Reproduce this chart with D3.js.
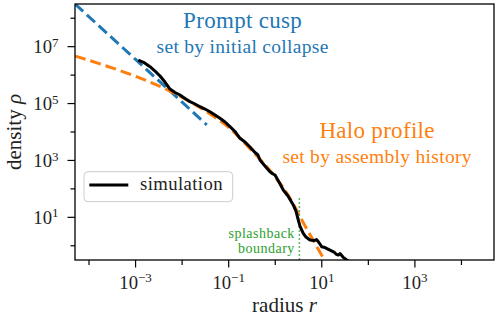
<!DOCTYPE html>
<html>
<head>
<meta charset="utf-8">
<script src="https://cdn.jsdelivr.net/npm/d3@7/dist/d3.min.js"></script>
<style>
  body { margin: 0; background: #fff; }
  svg text { font-family: "Liberation Serif", "DejaVu Serif", serif; }
</style>
</head>
<body>
<div class="chart"></div>
<script>
// all values are log10
var simLogR = [-2.942, -2.819, -2.690, -2.583, -2.475, -2.368, -2.261, -2.153, -2.046, -1.939,
    -1.831, -1.724, -1.616, -1.509, -1.402, -1.294, -1.187, -1.079, -0.972, -0.865,
    -0.757, -0.650, -0.542, -0.435, -0.371, -0.328, -0.220, -0.113, -0.048, -0.005,
    0.080, 0.173, 0.274, 0.388, 0.446, 0.495, 0.531, 0.602, 0.660, 0.746,
    0.832, 0.886, 0.925, 0.961, 0.997, 1.068, 1.133, 1.176, 1.262, 1.305,
    1.354, 1.391, 1.455, 1.534, 1.648];
var simLogRho = [6.531, 6.443, 6.295, 6.144, 5.968, 5.757, 5.511, 5.388, 5.300, 5.177,
    5.065, 4.984, 4.889, 4.808, 4.713, 4.597, 4.481, 4.351, 4.186, 4.017,
    3.778, 3.648, 3.472, 3.279, 3.191, 3.015, 2.804, 2.603, 2.523, 2.487,
    2.241, 1.960, 1.749, 1.432, 1.222, 0.905, 0.694, 0.437, 0.307, 0.202,
    0.184, 0.219, 0.142, 0.061, -0.034, -0.062, -0.115, -0.150, -0.220, -0.290,
    -0.326, -0.273, -0.396, -0.501, -0.607];

var haloLogR = [-4.3, -3.7, -3.0, -2.3, -1.8, -1.4, -1.0, -0.5, 0.0, 0.3, 0.6, 0.9, 1.1];
var haloLogRho = [6.67, 6.36, 5.96, 5.47, 5.04, 4.63, 4.16, 3.34, 2.42, 1.72, 0.82, -0.05, -0.62];

var cuspLogR = [-4.3, -3.0, -2.0, -1.47];
var cuspLogRho = [8.5, 6.55, 5.05, 4.25];

var splashR = 3.3,
    splashRhoTop = 47;

var xMajor = [-3, -1, 1, 3],
    xMinor = [-4, -2, 0, 2, 4],
    yMajor = [1, 3, 5, 7],
    yMinor = [0, 2, 4, 6, 8];

var serif = "'Liberation Serif', 'DejaVu Serif', serif";

var margin = { top: 4, right: 5, bottom: 66, left: 75 },
    width = 499 - margin.left - margin.right,
    height = 326 - margin.top - margin.bottom;

var x = d3.scaleLog().domain([5e-5, 5e4]).range([0, width]);
var y = d3.scaleLog().domain([Math.pow(10, -0.5), Math.pow(10, 8.5)]).range([height, 0]);

function pairs(lr, lrho) {
    return lr.map(function (d, i) { return [Math.pow(10, d), Math.pow(10, lrho[i])]; });
}

var svg = d3.select(".chart").append("svg")
    .attr("width", 499)
    .attr("height", 326)
    .append("g")
    .attr("transform", "translate(" + margin.left + "," + margin.top + ")");

svg.append("clipPath").attr("id", "plotclip")
    .append("rect").attr("width", width).attr("height", height);

var line = d3.line()
    .x(function (d) { return x(d[0]); })
    .y(function (d) { return y(d[1]); });

var plot = svg.append("g").attr("clip-path", "url(#plotclip)");

// prompt cusp (blue) and halo profile (orange)
plot.append("path")
    .datum(pairs(cuspLogR, cuspLogRho))
    .attr("fill", "none")
    .attr("stroke", "#1f77b4")
    .attr("stroke-width", 3)
    .attr("stroke-dasharray", "11,5")
    .attr("d", line);

plot.append("path")
    .datum(pairs(haloLogR, haloLogRho))
    .attr("fill", "none")
    .attr("stroke", "#ff7f0e")
    .attr("stroke-width", 3)
    .attr("stroke-dasharray", "11,5")
    .attr("d", line.curve(d3.curveMonotoneX));

line.curve(d3.curveLinear);

// splashback marker
plot.append("line")
    .attr("x1", x(splashR)).attr("x2", x(splashR))
    .attr("y1", y(splashRhoTop)).attr("y2", height)
    .attr("stroke", "#2ca02c")
    .attr("stroke-width", 1.5)
    .attr("stroke-dasharray", "1.5,2.5");

plot.append("path")
    .datum(pairs(simLogR, simLogRho))
    .attr("fill", "none")
    .attr("stroke", "#000")
    .attr("stroke-width", 3)
    .attr("stroke-linejoin", "round")
    .attr("d", line);

// ticks
function tickLen(g, vals, len, axis) {
    g.selectAll(null).data(vals).enter().append("line")
        .attr("x1", function (d) { return axis == "x" ? x(Math.pow(10, d)) : 0; })
        .attr("x2", function (d) { return axis == "x" ? x(Math.pow(10, d)) : -len; })
        .attr("y1", function (d) { return axis == "x" ? height : y(Math.pow(10, d)); })
        .attr("y2", function (d) { return axis == "x" ? height + len : y(Math.pow(10, d)); })
        .attr("stroke", "#000")
        .attr("stroke-width", 1.2);
}
var ticks = svg.append("g");
tickLen(ticks, xMajor, 7.5, "x");
tickLen(ticks, xMinor, 5, "x");
tickLen(ticks, yMajor, 7.5, "y");
tickLen(ticks, yMinor, 4.5, "y");

function powLabel(sel, e) {
    sel.append("tspan").text("10");
    sel.append("tspan")
        .attr("font-size", 13)
        .attr("dy", -6.5)
        .text(e < 0 ? "\u2212" + (-e) : e);
}

svg.selectAll(".xlab").data(xMajor).enter().append("text")
    .attr("class", "xlab")
    .attr("x", function (d) { return x(Math.pow(10, d)); })
    .attr("y", height + 28.5)
    .attr("text-anchor", "middle")
    .attr("font-family", serif)
    .attr("font-size", 18.7)
    .attr("fill", "#222")
    .each(function (d) { powLabel(d3.select(this), d); });

svg.selectAll(".ylab").data(yMajor).enter().append("text")
    .attr("class", "ylab")
    .attr("x", -16.5)
    .attr("y", function (d) { return y(Math.pow(10, d)) + 6.6; })
    .attr("text-anchor", "end")
    .attr("font-family", serif)
    .attr("font-size", 18.7)
    .attr("fill", "#222")
    .each(function (d) { powLabel(d3.select(this), d); });

// frame
svg.append("rect")
    .attr("width", width)
    .attr("height", height)
    .attr("fill", "none")
    .attr("stroke", "#000")
    .attr("stroke-width", 1.3);

// axis labels
var xl = svg.append("text")
    .attr("x", width / 2)
    .attr("y", height + 52)
    .attr("text-anchor", "middle")
    .attr("font-family", serif)
    .attr("font-size", 21)
    .attr("fill", "#222");
xl.append("tspan").text("radius ");
xl.append("tspan").attr("font-style", "italic").text("r");

var yl = svg.append("text")
    .attr("transform", "translate(" + (-54) + "," + (height / 2) + ") rotate(-90)")
    .attr("text-anchor", "middle")
    .attr("font-family", serif)
    .attr("font-size", 21)
    .attr("fill", "#222");
yl.append("tspan").text("density ");
yl.append("tspan").attr("font-style", "italic").text("\u03c1");

// annotations, positions in axes fractions
function note(fx, fy, txt, size, color) {
    svg.append("text")
        .attr("x", fx * width)
        .attr("y", fy * height)
        .attr("text-anchor", "middle")
        .attr("font-family", serif)
        .attr("font-size", size)
        .attr("letter-spacing", 0.3)
        .attr("fill", color)
        .text(txt);
}
note(0.40, 0.095, "Prompt cusp", 23, "#1f77b4");
note(0.40, 0.193, "set by initial collapse", 19.5, "#1f77b4");
note(0.721, 0.525, "Halo profile", 23, "#ff7f0e");
note(0.721, 0.622, "set by assembly history", 19.5, "#ff7f0e");

svg.selectAll(".sb").data(["splashback", "boundary"]).enter().append("text")
    .attr("x", x(splashR) - 4.5)
    .attr("y", function (d, i) { return 238 + i * 14.5 - margin.top; })
    .attr("text-anchor", "end")
    .attr("font-family", serif)
    .attr("font-size", 14)
    .attr("letter-spacing", 0.5)
    .attr("fill", "#2ca02c")
    .text(function (d) { return d; });

// legend
var leg = svg.append("g").attr("transform", "translate(9,167.7)");
leg.append("rect")
    .attr("width", 148.7)
    .attr("height", 30)
    .attr("rx", 4)
    .attr("fill", "#fff")
    .attr("fill-opacity", 0.8)
    .attr("stroke", "#ccc")
    .attr("stroke-width", 1);
leg.append("line")
    .attr("x1", 5.3).attr("x2", 44.3)
    .attr("y1", 13.3).attr("y2", 13.3)
    .attr("stroke", "#000")
    .attr("stroke-width", 3);
leg.append("text")
    .attr("x", 56)
    .attr("y", 18.5)
    .attr("font-family", serif)
    .attr("font-size", 18.7)
    .attr("letter-spacing", 0.4)
    .attr("fill", "#222")
    .text("simulation");
</script>
</body>
</html>
